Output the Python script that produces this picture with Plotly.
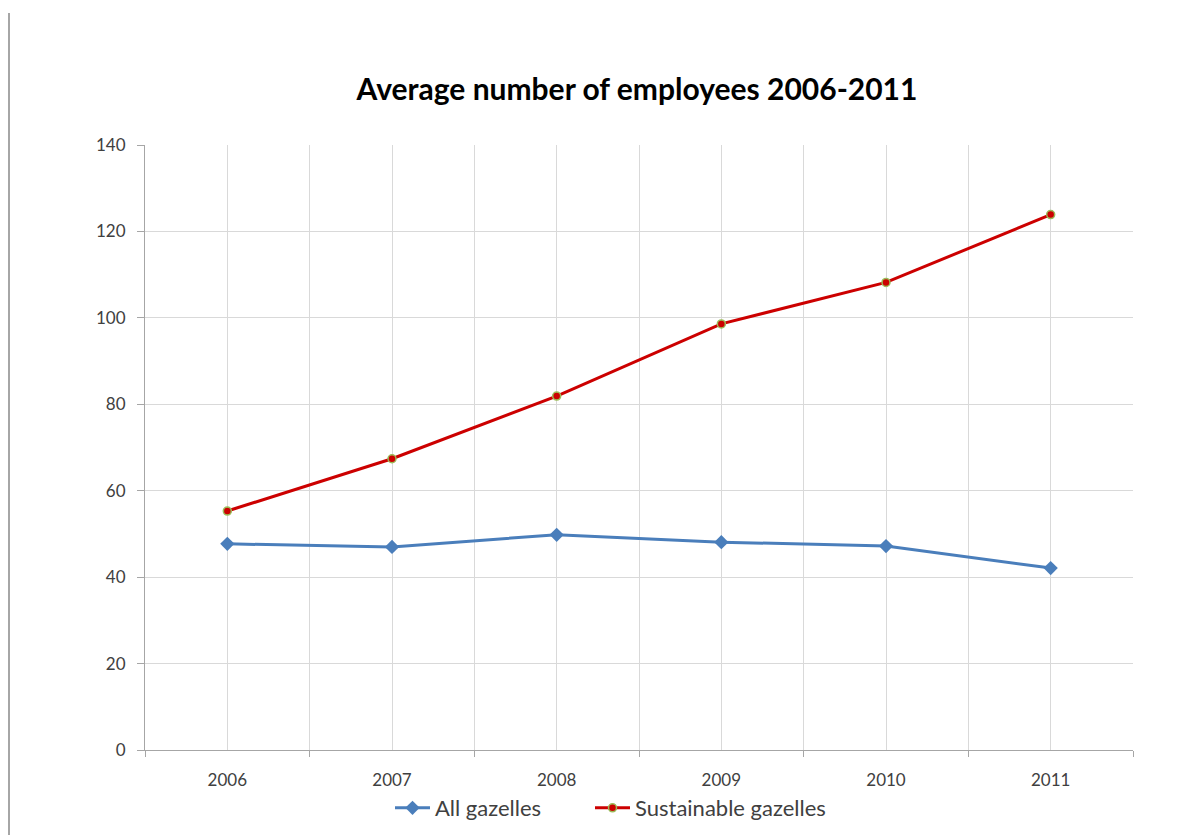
import plotly.graph_objects as go

years = ["2006", "2007", "2008", "2009", "2010", "2011"]
all_gazelles = [47.7, 47.0, 49.8, 48.1, 47.2, 42.1]
sustainable_gazelles = [55.3, 67.4, 81.9, 98.6, 108.2, 123.9]
y_ticks = [0, 20, 40, 60, 80, 100, 120, 140]

x_idx = list(range(len(years)))
font = "Lato, Open Sans, sans-serif"

fig = go.Figure()
fig.add_trace(go.Scatter(
    x=x_idx, y=all_gazelles, name="All gazelles", mode="lines+markers",
    line=dict(color="#4a7ebb", width=3),
    marker=dict(symbol="diamond", size=11, color="#4a7ebb"),
    legend="legend",
))
fig.add_trace(go.Scatter(
    x=x_idx, y=sustainable_gazelles, name="Sustainable gazelles", mode="lines+markers",
    line=dict(color="#cc0000", width=3),
    marker=dict(symbol="circle", size=8, color="#cc0000", line=dict(color="#9bbb59", width=1.5)),
    legend="legend2",
))

legend_common = dict(orientation="h", yanchor="middle", y=1 - 808 / 835, yref="container",
                     xref="container", xanchor="left",
                     font=dict(family=font, size=22, color="#404040"), itemwidth=35,
                     bgcolor="rgba(0,0,0,0)")

fig.update_layout(
    width=1204, height=835,
    margin=dict(l=145, r=71, t=145, b=85, autoexpand=False),
    paper_bgcolor="white", plot_bgcolor="white",
    title=dict(text="<b>Average number of employees 2006-2011</b>", x=637 / 1204,
               xanchor="center", y=1 - 89 / 835, yanchor="middle",
               font=dict(family=font, size=30, color="#000000")),
    font=dict(family=font, size=17, color="#404040"),
    legend=dict(x=390 / 1204, **legend_common),
    legend2=dict(x=590 / 1204, **legend_common),
    showlegend=True,
)
fig.update_xaxes(
    range=[-0.5, len(years) - 0.5], tickvals=x_idx, ticktext=years,
    showgrid=True, gridcolor="#d9d9d9", gridwidth=1,
    showline=True, linecolor="#a6a6a6", linewidth=1, ticks="",
    tickfont=dict(family=font, size=17, color="#404040"),
    ticklabelstandoff=15, automargin=False,
    minor=dict(tickvals=[i - 0.5 for i in range(len(years) + 1)], showgrid=True,
               gridcolor="#d9d9d9", gridwidth=1, ticks="outside", ticklen=6, tickcolor="#a6a6a6"),
    zeroline=False, fixedrange=True,
)
fig.update_yaxes(
    range=[0, 140], tickvals=y_ticks, showgrid=True, gridcolor="#d9d9d9", gridwidth=1,
    showline=True, linecolor="#a6a6a6", linewidth=1, ticks="outside", ticklen=7,
    tickcolor="#a6a6a6", tickfont=dict(family=font, size=17, color="#404040"),
    zeroline=False, ticklabelstandoff=8, automargin=False,
)
fig.add_shape(type="line", xref="paper", yref="paper",
              x0=(9 - 145) / 988, x1=(9 - 145) / 988,
              y0=(750 - 13) / 605, y1=(750 - 840) / 605,
              line=dict(color="#a6a6a6", width=2))

fig.write_html("out.html")
